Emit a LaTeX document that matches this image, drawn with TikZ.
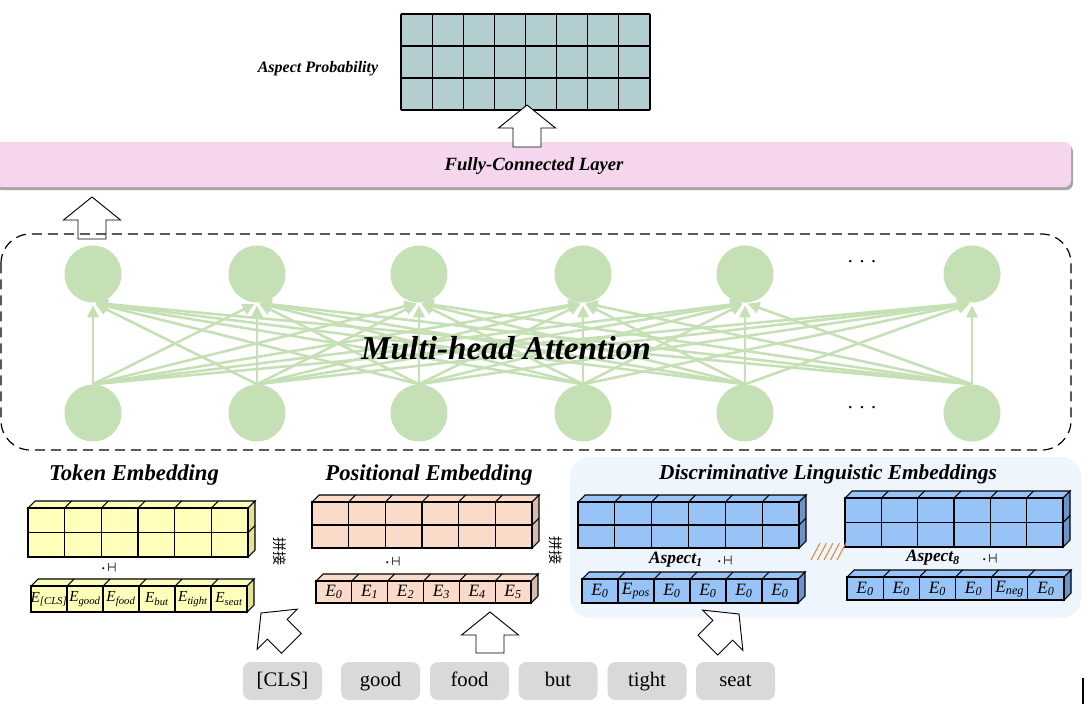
\documentclass[tikz,border=0pt]{standalone}
\usepackage{fontspec}
\setmainfont{Liberation Serif}
\newfontfamily\cjk{Noto Sans CJK SC}
\usetikzlibrary{arrows.meta}
\definecolor{gridc}{RGB}{179,206,208}
\definecolor{fcpink}{RGB}{246,213,238}
\definecolor{attg}{RGB}{197,224,180}
\definecolor{yelf}{RGB}{255,255,187}
\definecolor{yels}{RGB}{228,226,150}
\definecolor{pchf}{RGB}{250,219,202}
\definecolor{pchs}{RGB}{214,187,174}
\definecolor{bluf}{RGB}{152,195,247}
\definecolor{blus}{RGB}{108,148,203}
\definecolor{dlebg}{RGB}{238,245,253}
\definecolor{wordg}{RGB}{217,217,217}
\definecolor{slashc}{RGB}{225,140,60}
\newcommand\fsz[1]{\fontsize{#1}{#1}\selectfont}
% #1 x0 #2 y0 #3 x1 #4 y1 #5 rows #6 front #7 side
\newcommand\slab[7]{%
  \pgfmathsetmacro\cw{(#3-#1)/6}%
  \pgfmathsetmacro\rh{(#4-#2)/#5}%
  \filldraw[fill=#6,cell] (#1,#2) -- ({#1+7},{#2-7}) -- ({#3+7},{#2-7}) -- (#3,#2) -- cycle;
  \filldraw[fill=#7,cell] (#3,#2) -- ({#3+7},{#2-7}) -- ({#3+7},{#4-7}) -- (#3,#4) -- cycle;
  \filldraw[fill=#6,cell] (#1,#2) rectangle (#3,#4);
  \foreach \k in {1,...,5}{
    \draw[cell] ({#1+\k*\cw},#2) -- ({#1+\k*\cw},#4);
    \draw[cell] ({#1+\k*\cw},#2) -- ++(7,-7);
  }
  \ifnum#5>1
    \draw[cell] (#1,{#2+\rh}) -- (#3,{#2+\rh});
    \draw[cell] (#3,{#2+\rh}) -- ++(7,-7);
  \fi
}
\tikzset{
  cell/.style={draw=black,line width=0.8pt},
  pics/barrow/.style={code={
    \draw[fill=white,line width=0.7pt] (0,0) -- (28.5,23) -- (14,23) -- (14,#1) -- (-14,#1) -- (-14,23) -- (-28.5,23) -- cycle;}},
  neuron/.style={circle,fill=attg,minimum size=57*0.75pt,inner sep=0pt},
  attn/.style={draw=attg,line width=1.9pt,-{Triangle[length=9pt,width=8.5pt]},shorten >=2pt},
  title/.style={font=\fsz{17}\bfseries\itshape},
  elab/.style={font=\fsz{13}\itshape,inner sep=0pt},
  tlab/.style={font=\fsz{11.5}\itshape,inner sep=0pt},
  wordbox/.style={fill=wordg,rounded corners=6pt,minimum width=79*0.75pt,minimum height=38*0.75pt,font=\fsz{15.5},inner sep=0pt,text height=11pt,text depth=3.5pt},
  dotsym/.style={font=\cjk\fsz{7.5},inner sep=0pt},
  aspl/.style={font=\fsz{13}\bfseries\itshape},
}
\begin{document}
\begin{tikzpicture}[x=0.75pt,y=-0.75pt]
\useasboundingbox (0,0) rectangle (1088,704);
\fill[white] (0,0) rectangle (1088,704);

% ---------- aspect probability grid
\fill[gridc] (401,14) rectangle (650,110);
\foreach \i in {0,...,8} \draw[line width=0.8pt] ({401+\i*249/8},14) -- ({401+\i*249/8},110);
\foreach \j in {0,...,3} \draw[line width=0.8pt] (401,{14+\j*32}) -- (650,{14+\j*32});
\node[font=\fsz{12}\bfseries\itshape] (aplab) at (318,69) {Aspect Probability};

% ---------- fully connected layer
\fill[gray!70,rounded corners=5pt] (-5,145) rectangle (1073,190);
\fill[fcpink,rounded corners=5pt] (-5,142) rectangle (1071,187);
\node[font=\fsz{14}\bfseries\itshape] (fc) at (534,166) {Fully-Connected Layer};
\pic at (527,105) {barrow=42};
\pic at (92,197) {barrow=42};

% ---------- attention block
\draw[dash pattern=on 7.5pt off 4.5pt,draw=black,line width=0.9pt,rounded corners=22pt] (1,234) rectangle (1071,450);
\foreach \x [count=\i] in {93,257,419,583,745,972}{
  \node[neuron] (t\i) at (\x,274) {};
  \node[neuron] (b\i) at (\x,413) {};
}
\foreach \i in {1,...,6}{
  \foreach \j in {1,...,6}{
    \draw[attn] (b\i.north) -- (t\j.south);
  }
}
\node[font=\fsz{15}] (tdots) at (862,262) {.\,\,.\,\,.};
\node[font=\fsz{15}] (bdots) at (862,408) {.\,\,.\,\,.};
\node[font=\fsz{25}\bfseries\itshape] (mha) at (506,348) {Multi-head Attention};

% ---------- DLE background
\fill[dlebg,rounded corners=15pt] (570,457) rectangle (1081,618);

% ---------- titles
\node[title] (tokt) at (134,475) {Token Embedding};
\node[title] (post) at (429,475) {Positional Embedding};
\node[title,font=\fsz{16}\bfseries\itshape] (dlet) at (828,474) {Discriminative Linguistic Embeddings};

% ---------- blocks
\slab{28}{508}{248}{557}{2}{yelf}{yels}
\slab{31}{586}{247}{612}{1}{yelf}{yels}
\slab{312}{502}{532}{548}{2}{pchf}{pchs}
\slab{316}{581}{531}{603}{1}{pchf}{pchs}
\slab{578}{502}{799}{548}{2}{bluf}{blus}
\slab{582}{579}{798}{603}{1}{bluf}{blus}
\slab{845}{498}{1063}{547}{2}{bluf}{blus}
\slab{847}{577}{1064}{600}{1}{bluf}{blus}

% labels
\foreach \s [count=\k] in {[CLS],good,food,but,tight,seat}{
  \node[tlab] (tk\k) at ({31+(\k-0.5)*216/6},599) {E\textsubscript{\s}};
}
\foreach \s [count=\k] in {0,1,2,3,4,5}{
  \node[elab] (pe\k) at ({316+(\k-0.5)*215/6},592) {E\textsubscript{\s}};
}
\foreach \s [count=\k] in {0,pos,0,0,0,0}{
  \node[elab] (da\k) at ({582+(\k-0.5)*216/6},591) {E\textsubscript{\s}};
}
\foreach \s [count=\k] in {0,0,0,0,neg,0}{
  \node[elab] (db\k) at ({847+(\k-0.5)*217/6},589) {E\textsubscript{\s}};
}

\node[aspl] (asp1) at (676,560) {Aspect\textsubscript{1}};
\node[aspl] (asp8) at (933,558) {Aspect\textsubscript{8}};

% odd glyphs
\node[dotsym] (g1) at (107,567) {·\rotatebox{90}{工}};
\node[dotsym] (g2) at (391,561) {·\rotatebox{90}{工}};
\node[dotsym] (g3) at (723,560) {·\rotatebox{90}{工}};
\node[dotsym] (g4) at (988,558) {·\rotatebox{90}{工}};
\node[font=\cjk\fsz{10.5},inner sep=0pt] (r1) at (280,551) {\rotatebox{-90}{拼接}};
\node[font=\cjk\fsz{10.5},inner sep=0pt] (r2) at (556,550) {\rotatebox{-90}{拼接}};

% slashes
\foreach \i in {0,...,4}
  \draw[slashc,line width=0.8pt] ({811+\i*6.5},560) -- ({820+\i*6.5},543);

% ---------- words
\foreach \w/\x [count=\k] in {[CLS]/282.5,good/380.5,food/469.5,but/558,tight/647,seat/735.5}{
  \node[wordbox] (w\k) at (\x,681) {\w};
}
\pic[rotate=45] at (261,613) {barrow=43};
\pic at (490,612) {barrow=41};
\pic[rotate=-45] at (739,614) {barrow=44};

% artifact line
\draw[line width=0.8pt] (1083,678) -- (1083,704);
\end{tikzpicture}
\end{document}
